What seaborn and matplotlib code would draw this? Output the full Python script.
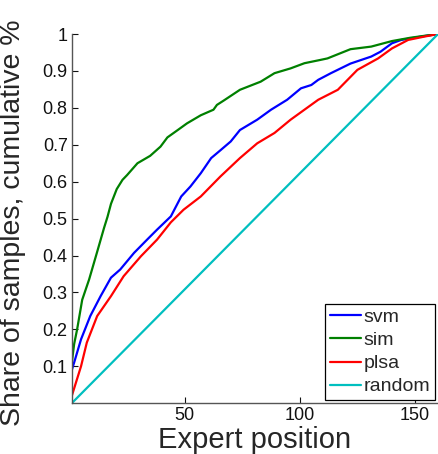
import matplotlib
matplotlib.use("Agg")
import matplotlib.pyplot as plt
import numpy as np
import pandas as pd
import seaborn as sns

sns.set_theme(style="white")
plt.rcParams["font.family"] = ["Liberation Sans", "DejaVu Sans"]

svm_x = [1, 2, 5, 9, 13.5, 18, 22, 28, 34, 38, 42.5, 44, 48.5, 52.5, 57, 61.5,
         65.5, 70, 74, 81.5, 87.5, 94.5, 100.5, 105, 108, 113.5, 122, 131, 135,
         140, 144, 152.5, 160]
svm_y = [0.09, 0.11, 0.173, 0.236, 0.29, 0.34, 0.362, 0.407, 0.445, 0.47, 0.497,
         0.506, 0.56, 0.587, 0.623, 0.664, 0.685, 0.709, 0.74, 0.768, 0.795, 0.822,
         0.853, 0.862, 0.876, 0.894, 0.92, 0.939, 0.952, 0.975, 0.984, 0.993, 1.0]

sim_x = [1, 2, 3.3, 5.5, 8.5, 12, 15, 16.5, 18, 20.5, 23, 25, 29.5, 35, 39.5,
         42.5, 47, 51, 57, 62.5, 64, 67, 74, 83, 89, 96, 102, 109, 112, 122, 131,
         140, 148, 155, 160]
sim_y = [0.11, 0.16, 0.20, 0.28, 0.335, 0.41, 0.475, 0.505, 0.54, 0.58, 0.605,
         0.618, 0.65, 0.67, 0.695, 0.72, 0.74, 0.758, 0.78, 0.795, 0.808, 0.82,
         0.849, 0.871, 0.894, 0.907, 0.921, 0.93, 0.934, 0.959, 0.966, 0.981,
         0.99, 0.996, 1.0]

plsa_x = [1, 2, 5, 7.5, 12, 18, 23.5, 31, 38, 44, 49.5, 57, 65.5, 74, 81.5, 89,
          96, 102, 108, 116.5, 125, 134, 140, 147, 154, 160]
plsa_y = [0.02, 0.04, 0.10, 0.164, 0.236, 0.29, 0.344, 0.398, 0.443, 0.49, 0.524,
          0.56, 0.614, 0.664, 0.704, 0.732, 0.768, 0.795, 0.822, 0.849, 0.903,
          0.934, 0.961, 0.984, 0.993, 1.0]

random_x = [1, 160]
random_y = [0.0, 1.0]

methods = ["svm", "sim", "plsa", "random"]
colors = {"svm": "#0000ff", "sim": "#008000", "plsa": "#ff0000", "random": "#00bfbf"}

frames = []
for name, xs, ys in [("svm", svm_x, svm_y), ("sim", sim_x, sim_y),
                     ("plsa", plsa_x, plsa_y), ("random", random_x, random_y)]:
    frames.append(pd.DataFrame({"position": xs, "share": ys, "method": name}))
df = pd.concat(frames, ignore_index=True)

fig = plt.figure(figsize=(4.38, 4.54), dpi=100)
ax = fig.add_axes([0.164, 0.112, 0.836, 0.813])

sns.lineplot(df, x="position", y="share", hue="method", hue_order=methods,
             palette=colors, estimator=None, sort=False, linewidth=1.6, ax=ax)

ax.set_xlim(1, 160)
ax.set_ylim(0, 1)
ax.set_xticks([50, 100, 150])
ax.set_yticks(np.arange(1, 11) / 10)
ax.set_yticklabels(["0.1", "0.2", "0.3", "0.4", "0.5", "0.6", "0.7", "0.8", "0.9", "1"])
ax.tick_params(direction="in", length=4, width=0.8, labelsize=13, colors="#111111",
               left=True, bottom=True, pad=3)
for side in ["top", "right"]:
    ax.spines[side].set_visible(False)
for side in ["left", "bottom"]:
    ax.spines[side].set_color("#555555")
    ax.spines[side].set_linewidth(1.0)

ax.set_xlabel("Expert position", fontsize=21, labelpad=1)
ax.set_ylabel("Share of samples, cumulative %", fontsize=20.5)
ax.yaxis.set_label_coords(-0.125, 0.49)

leg = ax.legend(loc="lower right", fontsize=14, frameon=True, fancybox=False,
                handlelength=1.6, borderpad=0.25, labelspacing=0.28,
                handletextpad=0.15, borderaxespad=0.15)
leg.get_frame().set_edgecolor("black")
leg.get_frame().set_linewidth(0.9)
leg.get_frame().set_alpha(1)
leg.set_title(None)

fig.savefig("out.png", dpi=100)
